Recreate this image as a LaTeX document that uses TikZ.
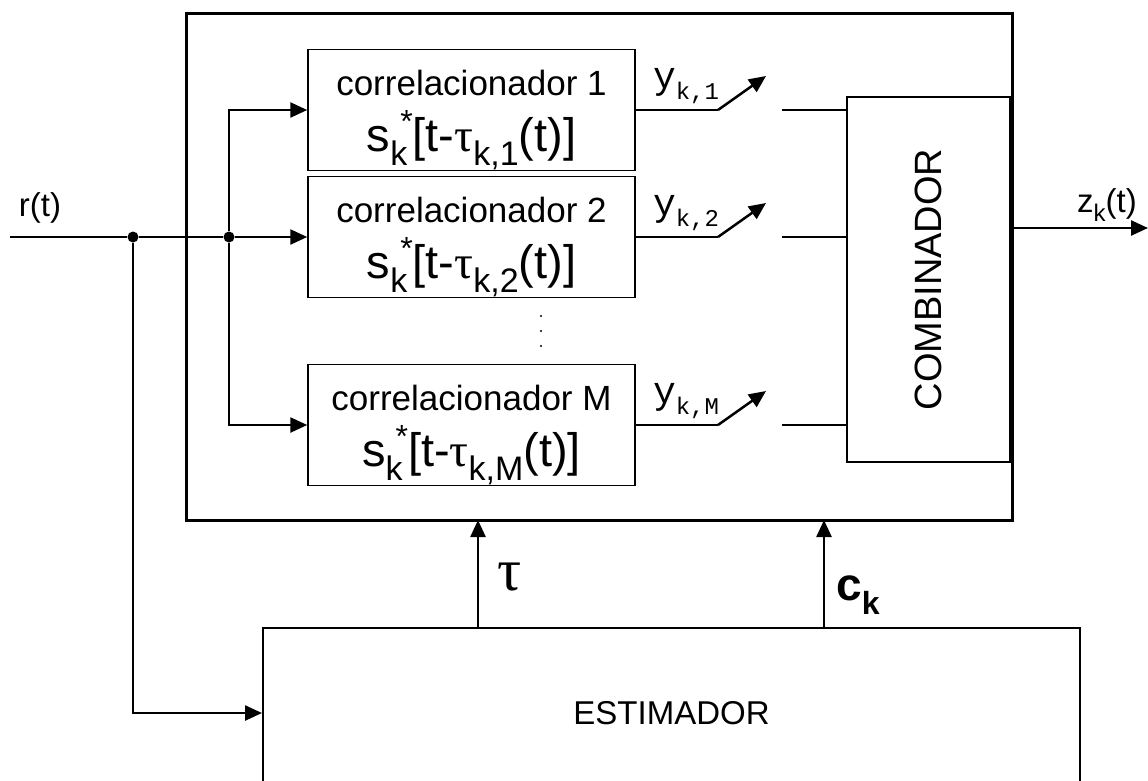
\documentclass[tikz,border=0pt]{standalone}
\usepackage{fontspec}
\setmainfont{Liberation Sans}
\newfontfamily\ymono{Liberation Mono}
\newfontfamily\greekf{Liberation Serif}
\usetikzlibrary{arrows.meta}

\newcommand{\fsz}[1]{\fontsize{#1}{#1}\selectfont}
\newcommand{\corrfun}[1]{s\raisebox{-0.3em}{\fsz{34}k}\hspace{-0.15em}\raisebox{0.4em}{\fsz{32}*}[t-{\greekf τ}\raisebox{-0.3em}{\fsz{34}k,#1}(t)]}
\newcommand{\ylab}[1]{{\ymono\fsz{38}y\raisebox{-0.3em}{\fsz{24}k,#1}}}

\tikzset{
  blk/.style={draw, line width=1.5pt, minimum width=327pt, minimum height=121pt,
    inner sep=0pt, align=center, font=\fsz{35}},
  wire/.style={line width=2.5pt},
  arr/.style={wire, -{Triangle[length=17pt,width=15pt]}},
  junct/.style={circle, fill, inner sep=0pt, minimum size=11pt}
}

\begin{document}
\begin{tikzpicture}[x=1pt,y=-1pt,font=\fsz{33}]
\useasboundingbox (0,0) rectangle (1148,780);
\clip (0,0) rectangle (1148,780);

% receptor
\node[draw, line width=3pt, minimum width=826pt, minimum height=507pt] (receptor) at (599,266.5) {};
\node[blk] (corr1) at (471.5,110) {\rule{0pt}{45pt}correlacionador 1\\[14pt]\fsz{47}\corrfun{1}};
\node[blk] (corr2) at (471.5,237) {\rule{0pt}{45pt}correlacionador 2\\[14pt]\fsz{47}\corrfun{2}};
\node[blk] (corrM) at (471.5,425) {\rule{0pt}{45pt}correlacionador M\\[14pt]\fsz{47}\corrfun{M}};
\node[draw, line width=2pt, minimum width=163pt, minimum height=365pt] (combinador) at (928.5,279.5) {\fsz{38}\rotatebox{90}{COMBINADOR}};
\foreach \yy in {316,331,346} \fill (541,\yy) circle (1.2pt);

% estimador
\node[draw, line width=2pt, minimum width=817pt, minimum height=170pt] (estimador) at (671.5,713) {ESTIMADOR};

% entrada
\coordinate (rin) at (10,237);
\node[junct] (j1) at (133,237) {};
\node[junct] (j2) at (229,237) {};
\node (rlabel) at (40,208) {r(t)};
\draw[wire] (rin) -- (j1) -- (j2);
\draw[arr] (j2) -- (corr2.west);
\draw[arr] (j2) |- (corr1.west);
\draw[arr] (j2) |- (corrM.west);
\draw[arr] (j1) |- (estimador.west);

% chaves
\foreach \n/\yy in {1/110, 2/237, M/425} {
  \draw[wire] (corr\n.east) -- (718,\yy) coordinate (sw\n);
  \draw[arr] (sw\n) -- ++(48,-34);
  \coordinate (cw\n) at (782,\yy);
  \draw[wire] (cw\n) -- (combinador.west |- cw\n);
  \node (y\n) at (686,\yy-24) {\ylab{\n}};
}

% saida
\coordinate (zout) at (1148,228);
\draw[arr] (combinador.east |- zout) -- (zout);
\node (zlabel) at (1107,205) {z\raisebox{-0.3em}{\fsz{24}k}(t)};

% tau e c_k
\coordinate (taup) at (478,520);
\coordinate (ckp) at (824,520);
\draw[arr] (estimador.north -| taup) -- (taup);
\draw[arr] (estimador.north -| ckp) -- (ckp);
\node (taulabel) at (510,577) {\greekf\fsz{60}τ};
\node (cklabel) at (858,595) {\bfseries\fsz{46}c\raisebox{-0.3em}{\fsz{32}k}};
\end{tikzpicture}
\end{document}
